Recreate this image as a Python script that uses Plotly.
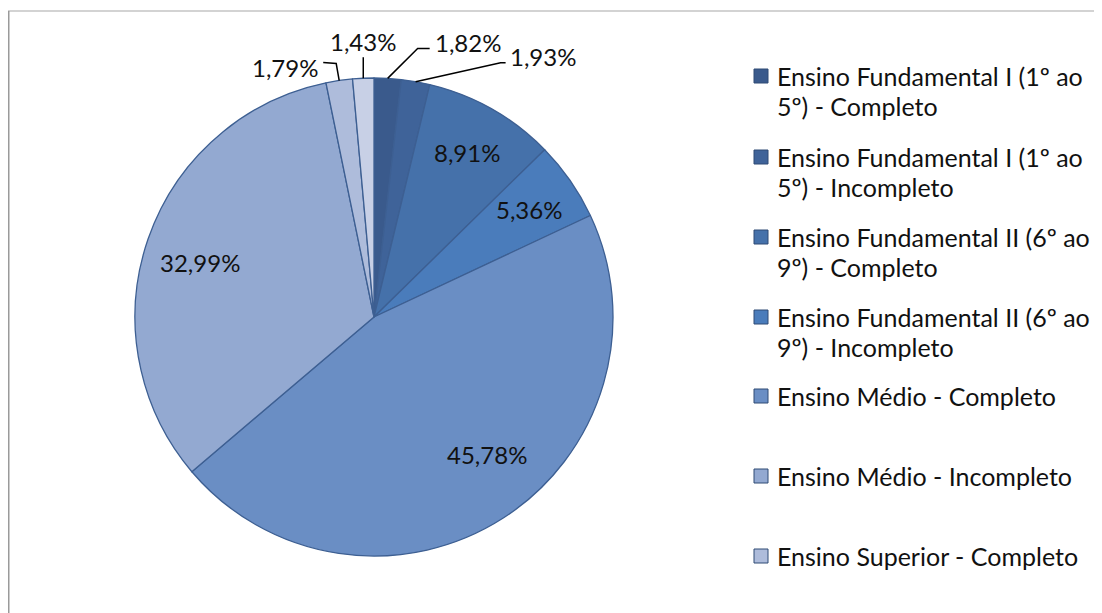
import math
import plotly.graph_objects as go

# ---------------- data ----------------
categories = [
    "Ensino Fundamental I (1º ao 5º) - Completo",
    "Ensino Fundamental I (1º ao 5º) - Incompleto",
    "Ensino Fundamental II (6º ao 9º) - Completo",
    "Ensino Fundamental II (6º ao 9º) - Incompleto",
    "Ensino Médio - Completo",
    "Ensino Médio - Incompleto",
    "Ensino Superior - Completo",
    "Ensino Superior - Incompleto",
]
values = [1.82, 1.93, 8.91, 5.36, 45.78, 32.99, 1.79, 1.43]
legend_lines = [
    ["Ensino Fundamental I (1º ao", "5º) - Completo"],
    ["Ensino Fundamental I (1º ao", "5º) - Incompleto"],
    ["Ensino Fundamental II (6º ao", "9º) - Completo"],
    ["Ensino Fundamental II (6º ao", "9º) - Incompleto"],
    ["Ensino Médio - Completo"],
    ["Ensino Médio - Incompleto"],
    ["Ensino Superior - Completo"],
]
colors = ["#3a5a8c", "#3f6399", "#4571aa", "#4a7cbb",
          "#6a8ec4", "#93a9d1", "#aebcdb", "#c8d0e6"]

# ---------------- geometry / style ----------------
W, H = 1102, 613
OFF = 8  # page body margin of the html
cx, cy, R = 374, 317, 239
FONT = "Lato"
TXT = "#111111"


def px(x):
    return (x - OFF) / W


def py(y):
    return 1 - (y - OFF) / H


total = sum(values)
mid_angles = []
acc = 0.0
for v in values:
    mid_angles.append((acc + v / 2) / total * 2 * math.pi)
    acc += v


def polar(ang, r):
    return cx + r * math.sin(ang), cy - r * math.cos(ang)


def fmt(v):
    return f"{v:.2f}".replace(".", ",") + "%"


fig = go.Figure(go.Pie(
    labels=categories,
    values=values,
    sort=False,
    direction="clockwise",
    rotation=0,
    marker=dict(colors=colors, line=dict(color="#3d5f92", width=1.3)),
    textinfo="none",
    hoverinfo="label+percent",
    showlegend=False,
    domain=dict(x=[px(cx - R), px(cx + R)], y=[py(cy + R), py(cy - R)]),
))

annotations = []
shapes = []

# inside labels
inside = {2: (0, 0), 3: (0, 0), 4: (11, -21), 5: (4, 7)}
for i, (dx, dy) in inside.items():
    x, y = polar(mid_angles[i], 0.79 * R)
    annotations.append(dict(x=px(x + dx), y=py(y + dy), xref="paper", yref="paper",
                            text=fmt(values[i]), showarrow=False,
                            xanchor="center", yanchor="middle",
                            font=dict(family=FONT, size=24, color=TXT)))

# outside labels with leader lines: (path offsets, text offset, anchor)
outside = {
    0: ([(30, -30), (42, -30)], (45, -36), "left"),
    1: ([(85, -19), (90, -19)], (92, -25), "left"),
    7: ([(0, -21)], (0, -37), "center"),
    6: ([(-3, -17), (-16, -18)], (-19, -13), "right"),
}
for i, (pts, (tx, ty), anchor) in outside.items():
    ex, ey = polar(mid_angles[i], R)
    path = f"M {px(ex)} {py(ey)}"
    for (ox, oy) in pts:
        path += f" L {px(ex + ox)} {py(ey + oy)}"
    shapes.append(dict(type="path", path=path, xref="paper", yref="paper",
                       line=dict(color="#000000", width=1.5)))
    annotations.append(dict(x=px(ex + tx), y=py(ey + ty), xref="paper", yref="paper",
                            text=fmt(values[i]), showarrow=False,
                            xanchor=anchor, yanchor="middle",
                            font=dict(family=FONT, size=24, color=TXT)))

# manual legend
leg_y = [76, 157, 237, 317, 396, 476, 556]
for k, lines in enumerate(legend_lines):
    y0 = leg_y[k]
    shapes.append(dict(type="rect", xref="paper", yref="paper",
                       x0=px(754), x1=px(768), y0=py(y0 - 7), y1=py(y0 + 7),
                       fillcolor=colors[k], line=dict(color="#2f4a75", width=1)))
    for j, t in enumerate(lines):
        annotations.append(dict(x=px(775), y=py(y0 + 30 * j), xref="paper", yref="paper",
                                text=t, showarrow=False,
                                xanchor="left", yanchor="middle",
                                font=dict(family=FONT, size=25, color=TXT)))

# chart frame
shapes.append(dict(type="line", xref="paper", yref="paper",
                   x0=px(8), x1=1, y0=py(11), y1=py(11),
                   line=dict(color="#c4c4c4", width=1.5)))
shapes.append(dict(type="line", xref="paper", yref="paper",
                   x0=px(8.5), x1=px(8.5), y0=py(11), y1=0,
                   line=dict(color="#9a9a9a", width=2)))

fig.update_layout(
    width=W, height=H,
    margin=dict(l=0, r=0, t=0, b=0),
    paper_bgcolor="white",
    plot_bgcolor="white",
    annotations=annotations,
    shapes=shapes,
    font=dict(family=FONT),
)

fig.write_html("out.html")
